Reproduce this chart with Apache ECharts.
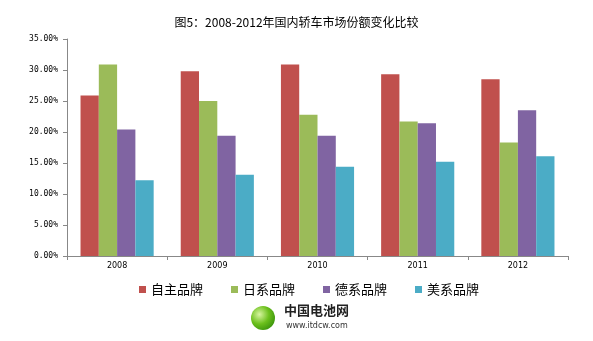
<!DOCTYPE html>
<html><head><meta charset="utf-8">
<script src="https://cdn.jsdelivr.net/npm/echarts@6/dist/echarts.min.js"></script>
<style>html,body{margin:0;padding:0;background:#fff}#c{width:593px;height:341px}</style>
</head><body><div id="c"></div>
<script>
const categories = ['2008','2009','2010','2011','2012'];
const seriesNames = ['自主品牌','日系品牌','德系品牌','美系品牌'];
const domestic = [25.9, 29.8, 30.9, 29.3, 28.5];
const japanese = [30.9, 25.0, 22.8, 21.7, 18.3];
const german = [20.4, 19.4, 19.4, 21.4, 23.5];
const american = [12.2, 13.1, 14.4, 15.2, 16.1];
const colors = ['#C0504D','#9BBB59','#8064A2','#4BACC6'];
const values = [domestic, japanese, german, american];
const font = '"Noto Sans CJK SC", sans-serif';

const chart = echarts.init(document.getElementById('c'));
chart.setOption({
  animation: false,
  title: {text: '图5：2008-2012年国内轿车市场份额变化比较', left: 'center', top: 11,
    textStyle: {fontFamily: font, fontSize: 12, fontWeight: 'normal', color: '#000'}},
  legend: {data: seriesNames, left: 134, top: 278, itemWidth: 7, itemHeight: 7, itemGap: 28,
    icon: 'rect', textStyle: {fontFamily: font, fontSize: 13, color: '#000'}},
  grid: {left: 67, right: 25, top: 39, bottom: 85},
  xAxis: {type: 'category', data: categories,
    axisLine: {lineStyle: {color: '#888'}},
    axisTick: {show: true, alignWithLabel: false, length: 4, lineStyle: {color: '#888'}},
    axisLabel: {fontSize: 8, color: '#000', fontFamily: 'DejaVu Sans', margin: 6}},
  yAxis: {type: 'value', min: 0, max: 35, interval: 5,
    splitLine: {show: false},
    axisLine: {show: true, lineStyle: {color: '#888'}},
    axisTick: {show: true, inside: false, length: 4, lineStyle: {color: '#888'}},
    axisLabel: {fontSize: 8, color: '#000', fontFamily: 'DejaVu Sans Mono', margin: 9,
      formatter: v => v.toFixed(2) + '%'}},
  series: seriesNames.map((n, i) => ({
    name: n, type: 'bar', data: values[i], barGap: '0%', barCategoryGap: '27%',
    itemStyle: {color: colors[i]}
  })),
  graphic: [
    {type: 'circle', shape: {cx: 263, cy: 318, r: 12},
      style: {fill: new echarts.graphic.RadialGradient(0.35, 0.35, 0.8, [
        {offset: 0, color: '#d8f5a0'}, {offset: 0.5, color: '#6cc01c'}, {offset: 1, color: '#2f8a08'}])}},
    {type: 'text', left: 284, top: 304, style: {text: '中国电池网', fontFamily: font, fontSize: 13, fontWeight: 'bold', fill: '#222'}},
    {type: 'text', left: 286, top: 322, style: {text: 'www.itdcw.com', fontFamily: 'DejaVu Sans', fontSize: 8, fill: '#333'}}
  ]
});
</script></body></html>
